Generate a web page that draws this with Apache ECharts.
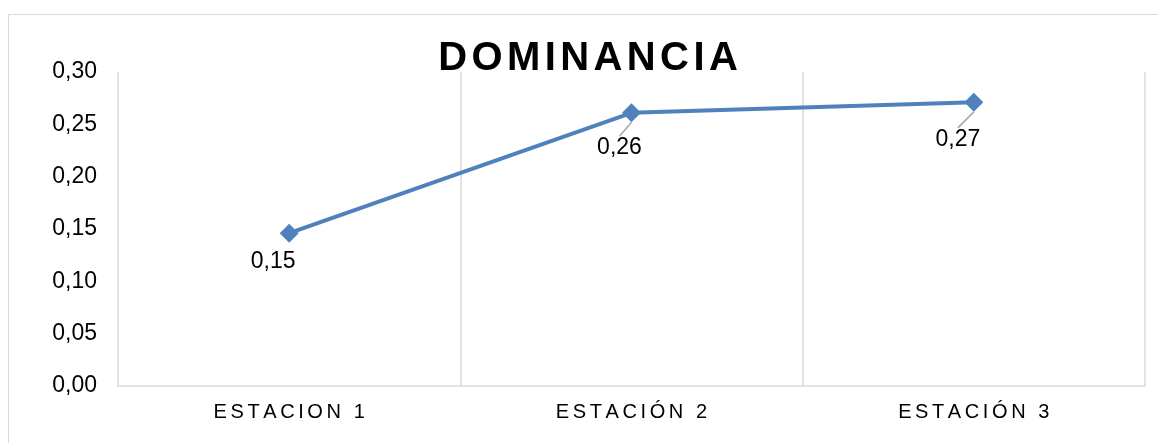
<!DOCTYPE html>
<html>
<head>
<meta charset="utf-8">
<style>
  html, body { margin: 0; padding: 0; background: #fff; }
  #chart { width: 1158px; height: 443px; }
</style>
<script src="https://cdn.jsdelivr.net/npm/echarts@6/dist/echarts.min.js"></script>
</head>
<body>
<div id="chart"></div>
<script>
var titleText = 'DOMINANCIA';
var estaciones = ['ESTACION 1', 'ESTACIÓN 2', 'ESTACIÓN 3'];
var dominancia = [0.146, 0.261, 0.271];
var yTicks = [0, 0.05, 0.10, 0.15, 0.20, 0.25, 0.30];

// spaced letters through rich tokens (no letterSpacing in zrender)
function spaced(str, key) {
    return str.split('').map(function (c) {
        return '{' + key + '|' + c + '}';
    }).join('');
}

function coma(v) {
    return v.toFixed(2).replace('.', ',');
}

var chart = echarts.init(document.getElementById('chart'));

var option = {
    animation: false,
    graphic: [{
        type: 'rect',
        shape: { x: 8.5, y: 14.5, width: 1300, height: 600 },
        style: { fill: 'none', stroke: '#d9d9d9', lineWidth: 1 },
        silent: true
    }],
    title: {
        text: spaced(titleText, 't'),
        left: 436,
        top: 39,
        padding: 0,
        textStyle: {
            rich: {
                t: {
                    fontFamily: 'Liberation Sans, Arial',
                    fontSize: 40,
                    fontWeight: 'bold',
                    color: '#000',
                    padding: [0, 2.2, 0, 2.2]
                }
            }
        }
    },
    grid: { left: 118, right: 13, top: 72, bottom: 57 },
    xAxis: {
        type: 'category',
        data: estaciones,
        boundaryGap: true,
        axisLine: { show: true, lineStyle: { color: '#d9d9d9', width: 1.5 } },
        axisTick: { show: false },
        splitLine: { show: true, lineStyle: { color: '#d9d9d9', width: 1.5 } },
        axisLabel: {
            margin: 16,
            formatter: function (v) { return spaced(v, 'x'); },
            rich: {
                x: {
                    fontFamily: 'Liberation Sans, Arial',
                    fontSize: 20,
                    color: '#000',
                    padding: [0, 1.8, 0, 1.8]
                }
            }
        }
    },
    yAxis: {
        type: 'value',
        min: yTicks[0],
        max: yTicks[yTicks.length - 1],
        interval: 0.05,
        axisLine: { show: false },
        axisTick: { show: false },
        splitLine: { show: false },
        axisLabel: {
            margin: 21,
            fontFamily: 'Liberation Sans, Arial',
            fontSize: 23,
            color: '#000',
            formatter: coma
        }
    },
    series: [{
        type: 'line',
        data: dominancia.map(function (v, i) {
            // first label sits close enough that no leader line is drawn
            return i === 0 ? { value: v, labelLine: { show: false } } : v;
        }),
        symbol: 'diamond',
        symbolSize: 19,
        lineStyle: { color: '#4f81bd', width: 4 },
        itemStyle: { color: '#4f81bd' },
        label: {
            show: true,
            position: 'inside',
            fontFamily: 'Liberation Sans, Arial',
            fontSize: 23,
            color: '#000',
            formatter: function (p) { return coma(p.value); }
        },
        labelLine: {
            show: true,
            lineStyle: { color: '#a6a6a6', width: 1.5 }
        },
        labelLayout: function (p) {
            var moves = [[-16, 28], [-12, 35], [-16, 37]];
            return { dx: moves[p.dataIndex][0], dy: moves[p.dataIndex][1] };
        }
    }]
};

chart.setOption(option);
</script>
</body>
</html>
